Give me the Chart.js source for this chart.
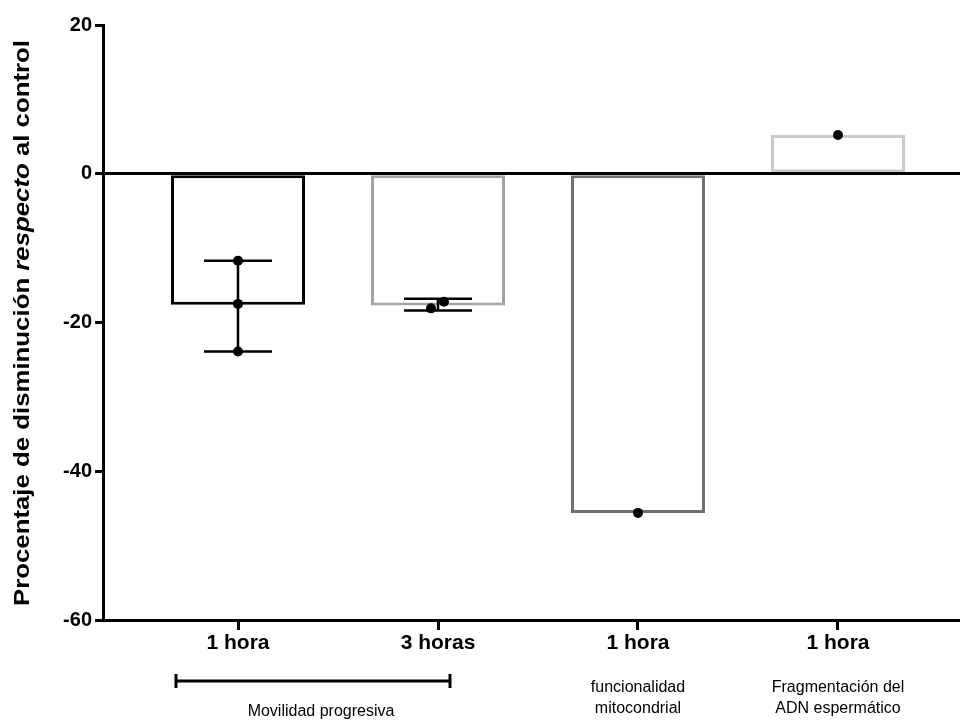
<!DOCTYPE html>
<html>
<head>
<meta charset="utf-8">
<script src="https://cdn.jsdelivr.net/npm/chart.js@4"></script>
<style>
  body { margin: 0; background: #fff; overflow: hidden; }
</style>
</head>
<body>
<canvas id="barchart" width="960" height="720"></canvas>
<script>
const categories = ['1 hora', '3 horas', '1 hora', '1 hora'];
const positions = [1, 2, 3, 4];
const meanValues = [-17.6, -17.7, -45.6, 5.2];
const replicateValues = [[-11.7, -17.5, -23.9], [-17.2, -18.1], [-45.6], [5.2]];
const errLow = [-23.9, -18.4, null, null];
const errHigh = [-11.7, -16.8, null, null];
const yTicks = [20, 0, -20, -40, -60];
const groupLabels = [
  { from: 0.69, to: 2.06, bracket: true, lines: ['Movilidad progresiva'] },
  { at: 3, lines: ['funcionalidad', 'mitocondrial'] },
  { at: 4, lines: ['Fragmentación del', 'ADN espermático'] }
];
const yTitleParts = [
  ['Procentaje de disminución ', 'bold'],
  ['respecto', 'italic bold'],
  [' al control', 'bold']
];

const FONT = '"Liberation Sans", Arial, sans-serif';
const barColors = ['#000000', '#a3a3a3', '#707070', '#cbcbcb'];

// small horizontal spread of the replicate dots, same as the original
const jitter = [[0, 0, 0], [0.03, -0.035], [0], [0]];
const dots = [];
replicateValues.forEach((vals, i) => {
  vals.forEach((v, j) => dots.push({ x: positions[i] + jitter[i][j], y: v }));
});

const extras = {
  id: 'extras',
  afterDatasetsDraw(chart) {
    const ctx = chart.ctx;
    const xs = chart.scales.x, ys = chart.scales.y;
    ctx.save();
    ctx.strokeStyle = '#000';
    ctx.lineWidth = 2.5;
    positions.forEach((p, i) => {
      if (errLow[i] === null) return;
      const px = xs.getPixelForValue(p);
      const yl = ys.getPixelForValue(errLow[i]);
      const yh = ys.getPixelForValue(errHigh[i]);
      ctx.beginPath();
      ctx.moveTo(px, yl); ctx.lineTo(px, yh);
      ctx.moveTo(px - 34, yl); ctx.lineTo(px + 34, yl);
      ctx.moveTo(px - 34, yh); ctx.lineTo(px + 34, yh);
      ctx.stroke();
    });
    ctx.restore();
  },
  afterDraw(chart) {
    const ctx = chart.ctx;
    const xs = chart.scales.x;
    ctx.save();
    ctx.fillStyle = '#000';
    ctx.strokeStyle = '#000';
    ctx.textAlign = 'center';
    ctx.textBaseline = 'middle';
    ctx.font = '16px ' + FONT;
    groupLabels.forEach(g => {
      if (g.bracket) {
        const x1 = xs.getPixelForValue(g.from), x2 = xs.getPixelForValue(g.to);
        ctx.lineWidth = 3;
        ctx.beginPath();
        ctx.moveTo(x1, 681); ctx.lineTo(x2, 681);
        ctx.moveTo(x1, 674); ctx.lineTo(x1, 688);
        ctx.moveTo(x2, 674); ctx.lineTo(x2, 688);
        ctx.stroke();
        ctx.fillText(g.lines[0], (x1 + x2) / 2 + 8, 712);
      } else {
        const cx = xs.getPixelForValue(g.at);
        g.lines.forEach((t, k) => ctx.fillText(t, cx, 688 + k * 21));
      }
    });
    ctx.restore();

    // y-axis title with the italic word, stretched to the original length
    ctx.save();
    ctx.fillStyle = '#000';
    ctx.textBaseline = 'middle';
    ctx.textAlign = 'left';
    ctx.translate(23, 323);
    ctx.rotate(-Math.PI / 2);
    let total = 0;
    yTitleParts.forEach(([t, f]) => { ctx.font = f + ' 22px ' + FONT; total += ctx.measureText(t).width; });
    ctx.scale(566 / total, 1);
    let x = -total / 2;
    yTitleParts.forEach(([t, f]) => {
      ctx.font = f + ' 22px ' + FONT;
      ctx.fillText(t, x, 0);
      x += ctx.measureText(t).width;
    });
    ctx.restore();
  }
};

const ctx1 = document.getElementById('barchart').getContext('2d');

const barchart = new Chart(ctx1, {
  type: 'bar',
  data: {
    datasets: [{
      type: 'scatter',
      data: dots,
      pointRadius: 5,
      pointBackgroundColor: '#000',
      pointBorderWidth: 0,
      order: 0
    }, {
      data: positions.map((p, i) => ({ x: p, y: meanValues[i] })),
      backgroundColor: '#fff',
      borderColor: barColors,
      borderWidth: 3,
      borderSkipped: false,
      barPercentage: 0.67,
      categoryPercentage: 1,
      order: 1
    }]
  },
  options: {
    responsive: false,
    devicePixelRatio: 1,
    animation: false,
    layout: { autoPadding: false, padding: { top: 25, right: 0, left: 0, bottom: 0 } },
    plugins: { legend: { display: false }, tooltip: { enabled: false } },
    scales: {
      x: {
        type: 'linear',
        offset: false,
        min: 0.325,
        max: 4.61,
        afterBuildTicks: s => { s.ticks = positions.map(v => ({ value: v })); },
        afterFit: s => { s.height = 100; s.paddingRight = 0; },
        grid: { offset: false, drawOnChartArea: false, tickLength: 10, lineWidth: 3, color: '#000' },
        border: { display: true, width: 3, color: '#000', z: 1 },
        ticks: {
          callback: v => categories[positions.indexOf(v)],
          color: '#000',
          font: { family: FONT, size: 21, weight: 'bold' },
          padding: 1,
          maxRotation: 0
        }
      },
      y: {
        min: -60,
        max: 20,
        afterBuildTicks: s => { s.ticks = yTicks.map(v => ({ value: v })); },
        afterFit: s => { s.width = 103; },
        grid: {
          z: 1,
          lineWidth: 3,
          tickLength: 8,
          tickColor: '#000',
          color: c => (c.tick && c.tick.value === 0) ? '#000' : 'rgba(0,0,0,0)'
        },
        border: { display: true, width: 3, color: '#000', z: 2 },
        ticks: {
          color: '#000',
          font: { family: FONT, size: 20, weight: 'bold' },
          padding: 3
        }
      }
    }
  },
  plugins: [extras]
});
</script>
</body>
</html>
